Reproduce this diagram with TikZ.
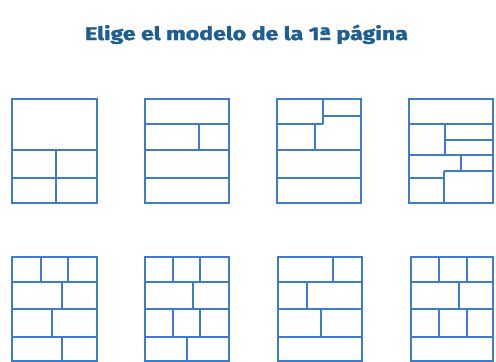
\documentclass[tikz,border=0pt]{standalone}
\usepackage{fontspec}
\setmainfont{Fira Sans}
\newfontfamily\titlefont[BoldFeatures={FakeBold=1.5}]{Fira Sans}
\usepackage{graphicx}
\definecolor{linecol}{HTML}{3D7BCB}
\definecolor{titlecol}{HTML}{1E5F92}
\begin{document}
\begin{tikzpicture}[x=0.75pt,y=-0.75pt,
  panel/.style={draw=linecol,line width=1.5pt},
  cell/.style={draw=linecol,line width=1.5pt}]
\useasboundingbox (0,0) rectangle (496,361);
\clip (0,0) rectangle (496,361);
\node[anchor=base,inner sep=0pt,text=titlecol] (title) at (246.5,40)
  {\resizebox{242pt}{11.5pt}{\titlefont\bfseries Elige el modelo de la 1ª página}};
% Row 1
% A
\draw[panel] (12,99) rectangle (97,203);
\draw[cell] (12,150) -- (97,150) (12,178) -- (97,178) (56,150) -- (56,203);
% B
\draw[panel] (145,99) rectangle (229,203);
\draw[cell] (145,124) -- (229,124) (145,150) -- (229,150) (145,178) -- (229,178) (199,124) -- (199,150);
% C
\draw[panel] (277,99) rectangle (361,203);
\draw[cell] (323,99) -- (323,124) (323,116) -- (361,116) (277,124) -- (323,124)
  (315,124) -- (315,150) (277,150) -- (361,150) (277,178) -- (361,178);
% D
\draw[panel] (409,99) rectangle (493,203);
\draw[cell] (409,124) -- (493,124) (445,124) -- (445,155) (445,140) -- (493,140)
  (409,155) -- (493,155) (461,155) -- (461,171) (444,171) -- (493,171)
  (444,171) -- (444,203) (409,178) -- (444,178);
% Row 2
% E
\draw[panel] (12,257) rectangle (97,361);
\draw[cell] (12,282) -- (97,282) (12,309) -- (97,309) (12,337) -- (97,337)
  (41,257) -- (41,282) (68,257) -- (68,282) (62,282) -- (62,309)
  (52,309) -- (52,337) (62,337) -- (62,361);
% F
\draw[panel] (145,257) rectangle (229,361);
\draw[cell] (145,282) -- (229,282) (145,309) -- (229,309) (145,337) -- (229,337)
  (173,257) -- (173,282) (200,257) -- (200,282) (193,282) -- (193,309)
  (173,309) -- (173,337) (200,309) -- (200,337) (187,337) -- (187,361);
% G
\draw[panel] (278,257) rectangle (362,361);
\draw[cell] (278,282) -- (362,282) (278,309) -- (362,309) (278,337) -- (362,337)
  (333,257) -- (333,282) (307,282) -- (307,309) (321,309) -- (321,337);
% H
\draw[panel] (411,257) rectangle (493,361);
\draw[cell] (411,282) -- (493,282) (411,309) -- (493,309) (411,337) -- (493,337)
  (439,257) -- (439,282) (467,257) -- (467,282) (459,282) -- (459,309)
  (439,309) -- (439,337) (467,309) -- (467,337);
\end{tikzpicture}
\end{document}
